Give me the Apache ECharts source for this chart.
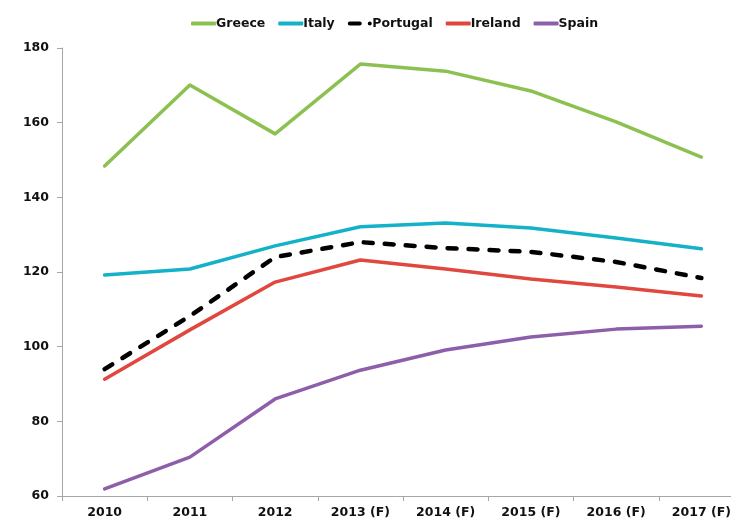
<!DOCTYPE html>
<html>
<head>
<meta charset="utf-8">
<script src="https://cdn.jsdelivr.net/npm/echarts@6/dist/echarts.min.js"></script>
<style>
  html, body { margin: 0; padding: 0; background: #fff; }
  #chart { width: 731px; height: 519px; }
</style>
</head>
<body>
<div id="chart"></div>
<script>
// 横轴年份
const years = ['2010', '2011', '2012', '2013 (F)', '2014 (F)', '2015 (F)', '2016 (F)', '2017 (F)']

// 各国数值
const greece = [148.4, 170.1, 157.0, 175.7, 173.8, 168.5, 160.2, 150.8]
const italy = [119.2, 120.8, 127.0, 132.1, 133.1, 131.8, 129.1, 126.2]
const portugal = [94.0, 108.2, 124.0, 128.0, 126.4, 125.4, 122.7, 118.4]
const ireland = [91.3, 104.5, 117.3, 123.2, 120.8, 118.1, 116.0, 113.6]
const spain = [61.9, 70.4, 86.0, 93.7, 99.1, 102.6, 104.7, 105.5]

const font = 'DejaVu Sans'

const makeLine = (name, data, color, extra) => Object.assign({
    name: name,
    type: 'line',
    data: data,
    symbol: 'none',
    color: color,
    lineStyle: { color: color, width: 3.5, cap: 'round', join: 'round' }
}, extra || {})

const chart = echarts.init(document.getElementById('chart'))

chart.setOption({
    animation: false,
    textStyle: { fontFamily: font },
    legend: {
        top: 12,
        left: 186,
        itemWidth: 25,
        itemHeight: 4,
        itemGap: 13,
        icon: 'roundRect',
        textStyle: { fontFamily: font, fontWeight: 'bold', fontSize: 12.5, color: '#111', padding: [0, 0, 0, -5] },
        data: [
            { name: 'Greece' },
            { name: 'Italy' },
            { name: 'Portugal', icon: 'path://M2,0 H12 A2,2 0 0 1 12,4 H2 A2,2 0 0 1 2,0 Z M22,0 A2,2 0 0 1 22,4 A2,2 0 0 1 22,0 Z' },
            { name: 'Ireland' },
            { name: 'Spain' }
        ]
    },
    // 右侧坐标轴超出画布，与原图一致
    grid: { left: 62, right: -13, top: 48, bottom: 23, outerBoundsMode: 'none', containLabel: false },
    xAxis: {
        type: 'category',
        data: years,
        boundaryGap: true,
        axisLine: { lineStyle: { color: '#a6a6a6', width: 1 } },
        axisTick: { show: true, length: 5, lineStyle: { color: '#a6a6a6' } },
        axisLabel: { color: '#111', fontWeight: 'bold', fontSize: 12.5, margin: 10, interval: 0 }
    },
    yAxis: {
        type: 'value',
        min: 60,
        max: 180,
        interval: 20,
        axisLine: { show: true, lineStyle: { color: '#a6a6a6', width: 1 } },
        axisTick: { show: true, length: 5, lineStyle: { color: '#a6a6a6' } },
        splitLine: { show: false },
        axisLabel: { color: '#111', fontWeight: 'bold', fontSize: 12.5, margin: 13 }
    },
    series: [
        makeLine('Greece', greece, '#8cc152'),
        makeLine('Italy', italy, '#15b1c9'),
        makeLine('Portugal', portugal, '#000000', {
            lineStyle: { color: '#000', width: 4.5, type: [9, 12], cap: 'round', join: 'round' }
        }),
        makeLine('Ireland', ireland, '#e0473f'),
        makeLine('Spain', spain, '#8d5ea9')
    ]
})
</script>
</body>
</html>
